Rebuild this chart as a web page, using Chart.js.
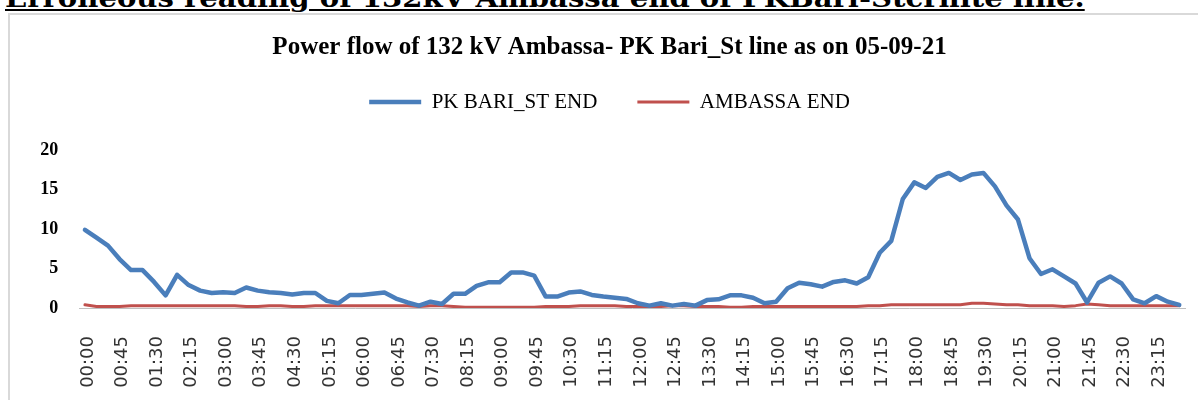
<!DOCTYPE html>
<html><head><meta charset="utf-8">
<script src="https://cdn.jsdelivr.net/npm/chart.js@4/dist/chart.umd.min.js"></script>
<style>
html,body{margin:0;padding:0;background:#fff;width:1198px;height:400px;overflow:hidden;}
#heading{position:absolute;left:5px;top:-17px;white-space:nowrap;font:bold 26px 'DejaVu Serif';line-height:30px;color:#000;text-decoration:underline;text-decoration-thickness:2px;text-underline-offset:2px;transform-origin:0 0;}
#frame{position:absolute;left:8px;top:13px;width:1300px;height:500px;border:2px solid #d9d9d9;box-sizing:border-box;}
#c{position:absolute;left:0;top:0;}
</style></head><body>
<div id="heading">Erroneous reading of 132kV Ambassa end of PKBari-Stcrnite line.</div>
<div id="frame"></div>
<canvas id="c" width="1198" height="400"></canvas>
<script>
const timeLabels = [
'00:00','00:15','00:30','00:45','01:00','01:15','01:30','01:45','02:00','02:15','02:30','02:45',
'03:00','03:15','03:30','03:45','04:00','04:15','04:30','04:45','05:00','05:15','05:30','05:45',
'06:00','06:15','06:30','06:45','07:00','07:15','07:30','07:45','08:00','08:15','08:30','08:45',
'09:00','09:15','09:30','09:45','10:00','10:15','10:30','10:45','11:00','11:15','11:30','11:45',
'12:00','12:15','12:30','12:45','13:00','13:15','13:30','13:45','14:00','14:15','14:30','14:45',
'15:00','15:15','15:30','15:45','16:00','16:15','16:30','16:45','17:00','17:15','17:30','17:45',
'18:00','18:15','18:30','18:45','19:00','19:15','19:30','19:45','20:00','20:15','20:30','20:45',
'21:00','21:15','21:30','21:45','22:00','22:15','22:30','22:45','23:00','23:15','23:30','23:45'];

const pkBariStEnd = [
9.9,8.9,7.9,6.2,4.8,4.8,3.3,1.6,4.2,2.9,2.2,1.9,
2.0,1.9,2.6,2.2,2.0,1.9,1.7,1.9,1.9,0.9,0.6,1.65,
1.65,1.8,1.95,1.2,0.7,0.3,0.8,0.5,1.8,1.8,2.8,3.25,
3.25,4.5,4.5,4.1,1.45,1.45,1.95,2.1,1.65,1.45,1.3,1.15,
0.6,0.3,0.6,0.3,0.5,0.3,1.0,1.1,1.6,1.6,1.3,0.6,
0.8,2.5,3.2,3.0,2.7,3.3,3.5,3.1,3.9,7.0,8.5,13.8,
15.9,15.2,16.6,17.1,16.2,16.9,17.1,15.4,13.0,11.2,6.3,4.3,
4.9,4.0,3.1,0.7,3.2,4.0,3.1,1.1,0.6,1.5,0.8,0.4];

const ambassaEnd = [
0.4,0.2,0.2,0.2,0.3,0.3,0.3,0.3,0.3,0.3,0.3,0.3,
0.3,0.3,0.2,0.2,0.3,0.3,0.2,0.2,0.3,0.3,0.3,0.3,
0.3,0.3,0.3,0.3,0.3,0.2,0.3,0.3,0.2,0.1,0.1,0.1,
0.1,0.1,0.1,0.1,0.2,0.2,0.2,0.3,0.3,0.3,0.3,0.2,
0.2,0.2,0.2,0.3,0.3,0.2,0.2,0.2,0.1,0.1,0.2,0.2,
0.2,0.2,0.2,0.2,0.2,0.2,0.2,0.2,0.3,0.3,0.4,0.4,
0.4,0.4,0.4,0.4,0.4,0.6,0.6,0.5,0.4,0.4,0.3,0.3,
0.3,0.2,0.3,0.5,0.4,0.3,0.3,0.3,0.3,0.3,0.3,0.3];

const seriesNames = ['PK BARI_ST END', 'AMBASSA END'];
const yTicks = [0, 5, 10, 15, 20];
const chartTitle = 'Power flow of 132 kV Ambassa- PK Bari_St line as on 05-09-21';

const h = document.getElementById('heading');
h.style.transform = 'scaleX(' + (1080 / h.offsetWidth) + ')';

new Chart(document.getElementById('c'), {
  type: 'line',
  data: {
    labels: timeLabels,
    datasets: [
      { label: seriesNames[0], data: pkBariStEnd, borderColor: '#4a7ebb', backgroundColor: '#4a7ebb',
        borderWidth: 4.5, pointRadius: 0, tension: 0, borderJoinStyle: 'round', borderCapStyle: 'round' },
      { label: seriesNames[1], data: ambassaEnd, borderColor: '#c0504d', backgroundColor: '#c0504d',
        borderWidth: 3, pointRadius: 0, tension: 0, borderJoinStyle: 'round', borderCapStyle: 'round' }
    ]
  },
  options: {
    responsive: false,
    devicePixelRatio: 1,
    animation: false,
    layout: { padding: { left: 34, right: 13, top: 14, bottom: 0 } },
    plugins: {
      tooltip: { enabled: false },
      title: { display: true, text: chartTitle, color: '#000',
        font: { family: 'Liberation Serif', size: 25, weight: 'bold', lineHeight: 1.2 },
        padding: { top: 19, bottom: -11.5 } },
      legend: { display: true, position: 'top',
        labels: { usePointStyle: true, pointStyle: 'line', pointStyleWidth: 52, padding: 40, color: '#000',
          font: { family: 'Liberation Serif', size: 21 } } },
      subtitle: { display: true, text: '', weight: 500, font: { size: 1, lineHeight: 1 }, padding: { top: 26.5, bottom: 0 } }
    },
    scales: {
      x: {
        type: 'category', offset: true,
        grid: { display: false, drawTicks: false },
        border: { display: true, color: '#bfbfbf', width: 1 },
        ticks: { autoSkip: false, maxRotation: 90, minRotation: 90, padding: 28, labelOffset: 3, color: '#333',
          font: { family: 'DejaVu Sans', size: 18 },
          callback: function(v, i) { return i % 3 === 0 ? timeLabels[i] : ''; } },
        afterFit: function(s) { s.height = 92; s.paddingLeft = 0; s.paddingRight = 0; }
      },
      y: {
        min: 0, max: 20,
        grid: { display: false, drawTicks: false },
        border: { display: false },
        afterBuildTicks: function(s) { s.ticks = yTicks.map(v => ({ value: v })); },
        ticks: { padding: 21, color: '#000', font: { family: 'Liberation Serif', size: 18, weight: 'bold' } },
        afterFit: function(s) { s.width = 45.2; }
      }
    }
  }
});
</script>
</body></html>
